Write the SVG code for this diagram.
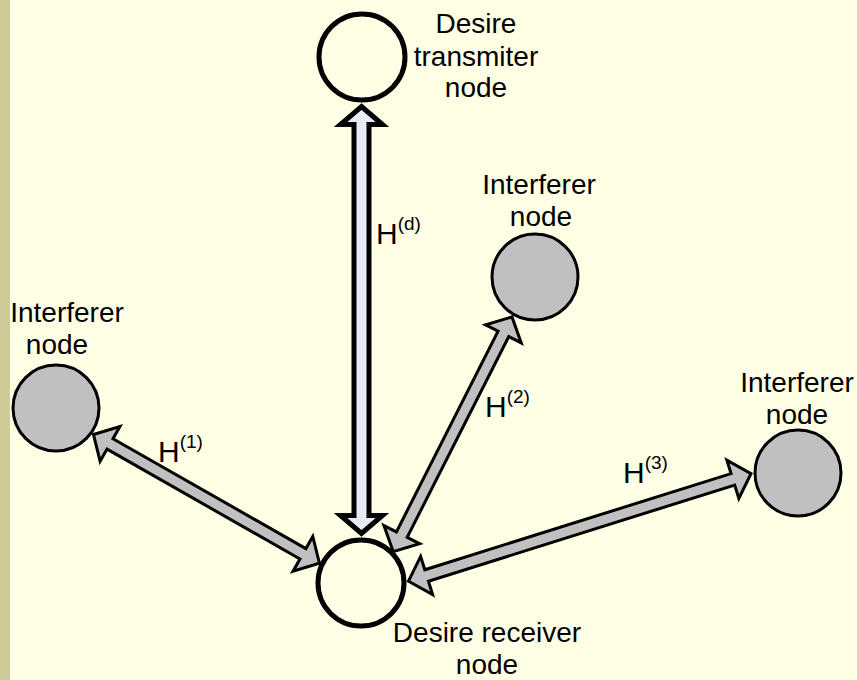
<svg xmlns="http://www.w3.org/2000/svg" width="857" height="680" viewBox="0 0 857 680">
  <style>
    .lbl { font-family: "Liberation Sans", Arial, sans-serif; font-size: 28px; fill: #000; text-anchor: middle; }
    .h { font-family: "Liberation Sans", Arial, sans-serif; font-size: 30px; fill: #000; }
    .sup { font-size: 19px; }
    .tx { fill: #FFFFE5; stroke: #000; stroke-width: 5; }
    .intf { fill: #C0C0C0; stroke: #000; stroke-width: 3; }
    .garrow { fill: #C0C0C0; stroke: #000; stroke-width: 3; stroke-linejoin: miter; }
    .barrow { fill: #E6ECF7; stroke: #000; stroke-width: 5; stroke-linejoin: miter; }
  </style>

  <!-- background and side strip -->
  <rect x="0" y="0" width="857" height="680" fill="#FFFFE5"/>
  <rect x="0" y="0" width="10" height="680" fill="#CCCC99"/>

  <!-- connectors: double-headed block arrows drawn along local x axis -->
  <g id="connectors">
    <!-- H(d): transmitter to receiver -->
    <path class="barrow" transform="translate(361.5,106.5) rotate(90)"
          d="M0,0 L18,-21 L18,-7.5 L409,-7.5 L409,-21 L427,0 L409,21 L409,7.5 L18,7.5 L18,21 Z"/>
    <!-- H(1): left interferer to receiver -->
    <path class="garrow" transform="translate(93.5,434.5) rotate(29.67)"
          d="M0,0 L19,-20 L19,-6 L241,-6 L241,-20 L260,0 L241,20 L241,6 L19,6 L19,20 Z"/>
    <!-- H(2): receiver to middle interferer -->
    <path class="garrow" transform="translate(393.2,551.6) rotate(-63.15)"
          d="M0,0 L19,-20 L19,-6 L244,-6 L244,-20 L263,0 L244,20 L244,6 L19,6 L19,20 Z"/>
    <!-- H(3): receiver to right interferer -->
    <path class="garrow" transform="translate(408.5,581.2) rotate(-17.44)"
          d="M0,0 L19,-20 L19,-6 L340,-6 L340,-20 L359,0 L340,20 L340,6 L19,6 L19,20 Z"/>

    <text class="h" x="376" y="244">H<tspan class="sup" dy="-14">(d)</tspan></text>
    <text class="h" x="158" y="462">H<tspan class="sup" dy="-14">(1)</tspan></text>
    <text class="h" x="485" y="417">H<tspan class="sup" dy="-14">(2)</tspan></text>
    <text class="h" x="623" y="483">H<tspan class="sup" dy="-14">(3)</tspan></text>
  </g>

  <!-- desired transmitter -->
  <g id="transmitter">
    <circle class="tx" cx="362" cy="57" r="43"/>
    <text class="lbl" x="476" y="33">Desire</text>
    <text class="lbl" x="476" y="66">transmiter</text>
    <text class="lbl" x="476" y="97">node</text>
  </g>

  <!-- desired receiver -->
  <g id="receiver">
    <circle class="tx" cx="361" cy="583" r="43"/>
    <text class="lbl" x="487" y="642">Desire receiver</text>
    <text class="lbl" x="487" y="674">node</text>
  </g>

  <!-- interferer 1 (left) -->
  <g id="interferer1">
    <circle class="intf" cx="56" cy="408" r="43"/>
    <text class="lbl" x="67" y="322">Interferer</text>
    <text class="lbl" x="57" y="354">node</text>
  </g>

  <!-- interferer 2 (middle) -->
  <g id="interferer2">
    <circle class="intf" cx="535" cy="277" r="43"/>
    <text class="lbl" x="539" y="194">Interferer</text>
    <text class="lbl" x="541" y="226">node</text>
  </g>

  <!-- interferer 3 (right) -->
  <g id="interferer3">
    <circle class="intf" cx="798" cy="473" r="43"/>
    <text class="lbl" x="797" y="392">Interferer</text>
    <text class="lbl" x="797" y="424">node</text>
  </g>
</svg>
